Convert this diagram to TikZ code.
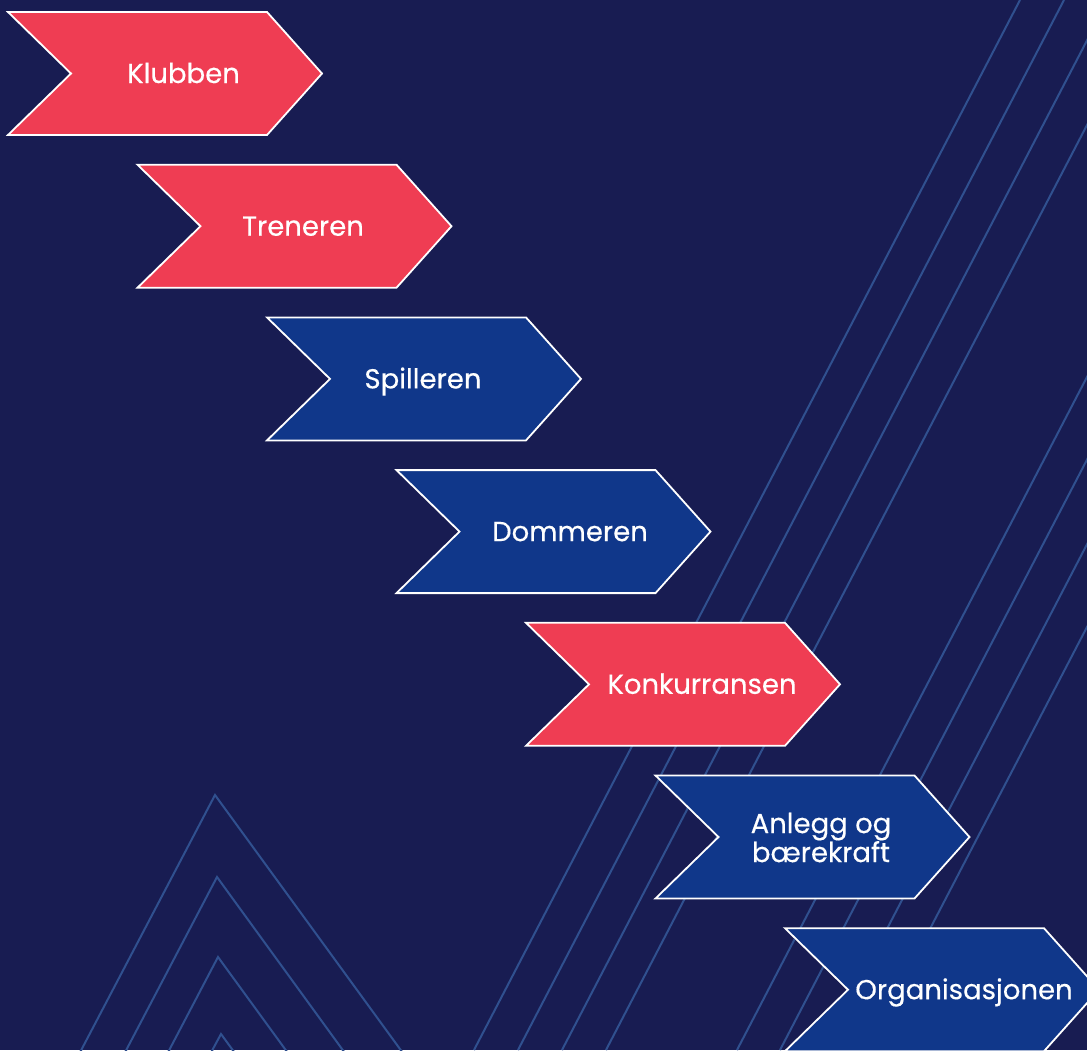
\documentclass[tikz,border=0pt]{standalone}
\usepackage{fontspec}
\setmainfont{Poppins}[FakeBold=0.35]
\definecolor{navybg}{HTML}{181C52}
\definecolor{clubred}{HTML}{EF3D53}
\definecolor{clubblue}{HTML}{10378A}
\definecolor{stripe}{HTML}{30508F}
\tikzset{
  chev/.style={draw=white, line width=1.8pt, line join=miter},
  bgline/.style={draw=stripe, line width=2pt},
  chevtext/.style={text=white, font=\fontsize{27.5}{29}\selectfont, inner sep=0pt},
}

\begin{document}
\begin{tikzpicture}[x=1pt, y=-1pt]
\useasboundingbox (0,0) rectangle (1087,1050);
\fill[navybg] (0,0) rectangle (1087,1050);

% background stripes
\begin{scope}
\clip (0,0) rectangle (1087,1050);
\draw[bgline] (1020,0) -- (474,1050);
\draw[bgline] (1064,0) -- (518,1050);
\draw[bgline] (1108,0) -- (562,1050);
\draw[bgline] (1152,0) -- (606,1050);
\draw[bgline] (1283,0) -- (737,1050);
\draw[bgline] (1326,0) -- (780,1050);
\draw[bgline] (1370,0) -- (824,1050);
\draw[bgline] (1413,0) -- (867,1050);
% nested peaks
\draw[bgline, line join=miter] (76,1060) -- (215,795) -- (408,1060);
\draw[bgline, line join=miter] (121,1060) -- (217,877) -- (350,1060);
\draw[bgline, line join=miter] (164,1060) -- (218,957) -- (293,1060);
\draw[bgline, line join=miter] (207,1060) -- (221,1034) -- (240,1060);
\end{scope}

% chevrons
\coordinate (K1) at (8,12);
\coordinate (K2) at (137.5,164.7);
\coordinate (K3) at (267,317.4);
\coordinate (K4) at (396.5,470.1);
\coordinate (K5) at (526,622.8);
\coordinate (K6) at (655.5,775.5);
\coordinate (K7) at (785,928.2);

\draw[chev, fill=clubred] (K1) -- ++(259,0) -- ++(55,61.5) -- ++(-55,61.5) -- ++(-259,0) -- ++(63,-61.5) -- cycle;
\node[chevtext, anchor=base] (klubben) at ([shift={(175.5,71)}]K1) {Klubben};

\draw[chev, fill=clubred] (K2) -- ++(259,0) -- ++(55,61.5) -- ++(-55,61.5) -- ++(-259,0) -- ++(63,-61.5) -- cycle;
\node[chevtext, anchor=base] (treneren) at ([shift={(165.5,71)}]K2) {Treneren};

\draw[chev, fill=clubblue] (K3) -- ++(259,0) -- ++(55,61.5) -- ++(-55,61.5) -- ++(-259,0) -- ++(63,-61.5) -- cycle;
\node[chevtext, anchor=base] (spilleren) at ([shift={(156,71)}]K3) {Spilleren};

\draw[chev, fill=clubblue] (K4) -- ++(259,0) -- ++(55,61.5) -- ++(-55,61.5) -- ++(-259,0) -- ++(63,-61.5) -- cycle;
\node[chevtext, anchor=base] (dommeren) at ([shift={(173.5,71)}]K4) {Dommeren};

\draw[chev, fill=clubred] (K5) -- ++(259,0) -- ++(55,61.5) -- ++(-55,61.5) -- ++(-259,0) -- ++(63,-61.5) -- cycle;
\node[chevtext, anchor=base] (konkurransen) at ([shift={(176,71)}]K5) {Konkurransen};

\draw[chev, fill=clubblue] (K6) -- ++(259,0) -- ++(55,61.5) -- ++(-55,61.5) -- ++(-259,0) -- ++(63,-61.5) -- cycle;
\node[chevtext, align=center, font=\fontsize{27.5}{29}\selectfont] (anlegg) at ([shift={(165.5,62)}]K6) {Anlegg og\\bærekraft};

\draw[chev, fill=clubblue] (K7) -- ++(259,0) -- ++(55,61.5) -- ++(-55,61.5) -- ++(-259,0) -- ++(63,-61.5) -- cycle;
\node[chevtext, anchor=base] (organisasjonen) at ([shift={(179,71)}]K7) {Organisasjonen};
\end{tikzpicture}
\end{document}
